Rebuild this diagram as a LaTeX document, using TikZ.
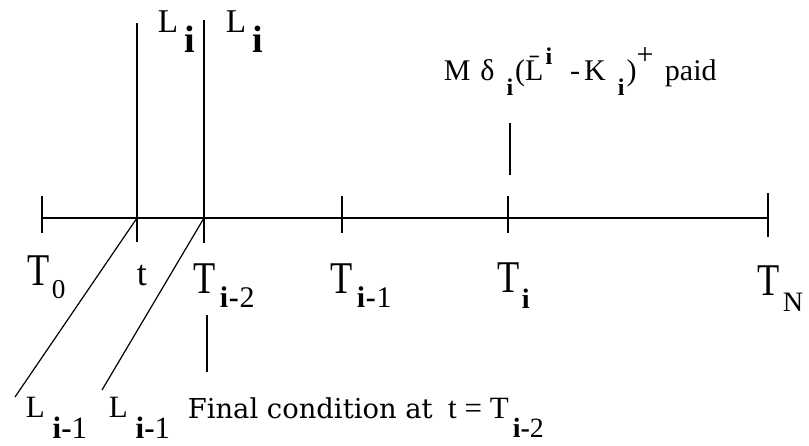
\documentclass[tikz,border=0pt]{standalone}
\usepackage{fontspec}
\setmainfont{Liberation Serif}
\newfontfamily\widefont{DejaVu Serif}
\usetikzlibrary{positioning}
\newcommand{\lowered}[3]{\raisebox{-#1}{\scalebox{#2}{#3}}}
\newcommand{\narrowT}{\scalebox{0.8}[1]{T}}
\begin{document}
\begin{tikzpicture}[x=0.5pt, y=-0.5pt, line width=0.75pt,
    tlab/.style={inner sep=0pt, anchor=base west, font=\fontsize{22.7}{25}\selectfont},
    llab/.style={inner sep=0pt, anchor=base west, font=\fontsize{15.5}{18}\selectfont},
    plab/.style={inner sep=0pt, anchor=base west, font=\fontsize{15}{17}\selectfont}]
    \useasboundingbox (0,0) rectangle (809,445);
    % 1. Time axis
    \coordinate (start) at (42,218);
    \coordinate (end) at (768,218);
    \draw (start) -- (end);

    % 2. Ticks
    \foreach \x in {42,342,508} {
        \draw (\x,196) -- (\x,233);
    }
    \draw (768,193) -- (768,237);

    % 3. Lines at t and T_{i-2}
    \coordinate (t) at (137,218);
    \coordinate (s) at (204,218);
    \draw (137,23) -- (137,242);
    \draw (204,20) -- (204,243);
    \coordinate (lt) at (15,397);
    \coordinate (ls) at (102,390);
    \draw[line width=0.6pt] (t) -- (lt);
    \draw[line width=0.6pt] (s) -- (ls);

    % 4. Pointers to the texts
    \draw (510,123) -- (510,175);
    \draw (207,315) -- (207,372);

    % 5. Dates
    \node[tlab] (T0) at (27,285) {\narrowT\kern1pt\lowered{6.5pt}{0.6}{0}};
    \node[tlab, font=\fontsize{18}{20}\selectfont] (tt) at (136,285) {t};
    \node[tlab] (Tii) at (193,293) {\narrowT\kern2pt\lowered{7pt}{0.66}{\textbf{i}\kern0.5pt\textbf{-}\kern0.5pt2}};
    \node[tlab] (Ti1) at (330,293) {\narrowT\kern2pt\lowered{7pt}{0.66}{\textbf{i}\kern0.5pt\textbf{-}\kern0.5pt1}};
    \node[tlab] (Ti) at (497,292) {\narrowT\kern1pt\lowered{8pt}{0.62}{\textbf{i}}};
    \node[tlab] (TN) at (757,295) {\narrowT\kern1.5pt\lowered{8pt}{0.62}{N}};

    % 6. Rates
    \node[llab, font=\fontsize{16.6}{18}\selectfont] (Lia) at (157,32) {L\kern3pt\lowered{10pt}{1.15}{\textbf{i}}};
    \node[llab, font=\fontsize{16.6}{18}\selectfont] (Lib) at (225,32) {L\kern3pt\lowered{10pt}{1.15}{\textbf{i}}};
    \node[llab] (Lja) at (25,417) {L\kern4pt\lowered{10.5pt}{1}{\textbf{i-}1}};
    \node[llab] (Ljb) at (108,417) {L\kern4pt\lowered{10.5pt}{1}{\textbf{i-}1}};

    % 7. Payment and final condition
    \node[plab] (pay) at (443,80) {M\kern5pt δ\kern6pt\lowered{7.5pt}{0.8}{\textbf{i}}\kern1pt(\={L}\kern1pt\raisebox{8pt}{\scalebox{0.8}{\textbf{i}}}\kern9pt-\kern2pt K\kern6pt\lowered{7.5pt}{0.8}{\textbf{i}}\kern1pt)\raisebox{8pt}{+}\kern2pt\ paid};
    \node[llab] (fin) at (187,418) {{\widefont\fontsize{13.7}{16}\selectfont Final condition at}\ \ t = T\kern2pt\lowered{9.5pt}{0.9}{\textbf{i-}2}};
\end{tikzpicture}
\end{document}
